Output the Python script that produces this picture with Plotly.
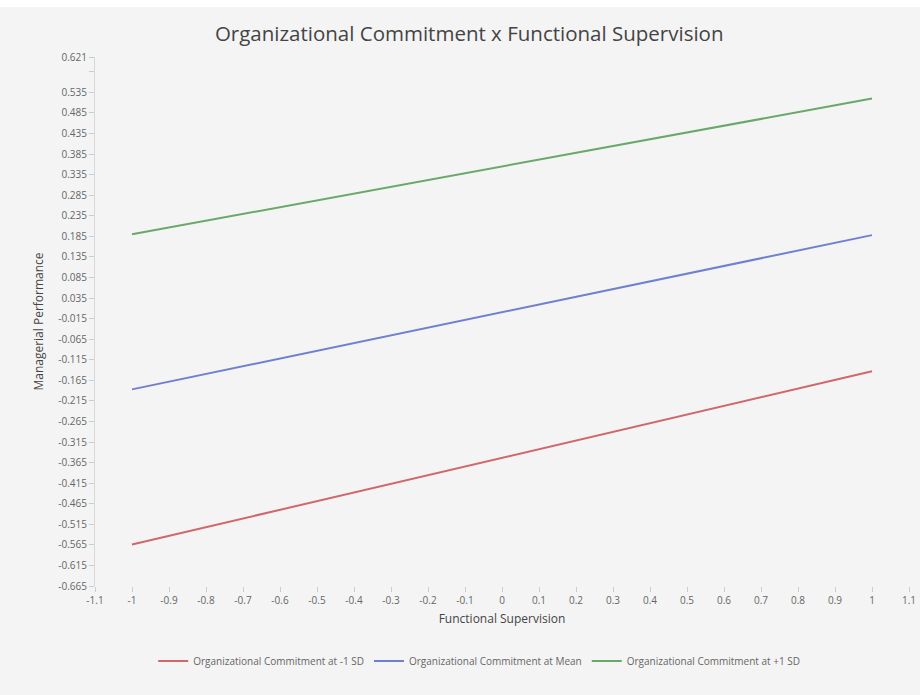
import plotly.graph_objects as go

# Data
x_vals = [-1, 1]
series_names = ["Organizational Commitment at -1 SD",
                "Organizational Commitment at Mean",
                "Organizational Commitment at +1 SD"]
low_sd = [-0.564, -0.143]
mean_vals = [-0.187, 0.188]
high_sd = [0.190, 0.520]
series_colors = ["#d0676a", "#6f80d0", "#6aa86a"]

y_tickvals = [round(-0.665 + 0.05 * k, 3) for k in range(26)] + [0.621]
y_ticktext = [("%.3f" % v) if v != 0.585 else "" for v in y_tickvals]
x_tickvals = [round(-1.1 + 0.1 * k, 1) for k in range(23)]
x_ticktext = ["%g" % v for v in x_tickvals]

fig = go.Figure()
for name, ys, c in zip(series_names, [low_sd, mean_vals, high_sd], series_colors):
    fig.add_trace(go.Scatter(x=x_vals, y=ys, mode="lines", name=name,
                             line=dict(color=c, width=2)))

font_family = "Open Sans, Noto Sans, sans-serif"
fig.update_layout(
    width=920, height=695,
    paper_bgcolor="#f4f4f4", plot_bgcolor="#f4f4f4",
    margin=dict(l=95, r=11, t=57, b=109, autoexpand=False),
    font=dict(family=font_family, color="#666666", size=10),
    title=dict(text="Organizational Commitment x Functional Supervision",
               x=0.51, xanchor="center", y=0.952, yanchor="middle",
               font=dict(size=20.5, color="#444444", family=font_family)),
    showlegend=True,
    legend=dict(orientation="h", x=0.472, xanchor="center", y=-0.142, yanchor="middle",
                font=dict(size=10, color="#666666"), bgcolor="rgba(0,0,0,0)",
                itemwidth=30, tracegroupgap=0),
    xaxis=dict(range=[-1.1, 1.1], tickvals=x_tickvals, ticktext=x_ticktext,
               showgrid=False, zeroline=False, showline=False,
               ticks="outside", ticklen=5, tickcolor="#cccccc",
               ticklabeloverflow="allow", automargin=False,
               tickfont=dict(size=10, color="#666666"),
               title=dict(text="Functional Supervision", standoff=8,
                          font=dict(size=12, color="#444444"))),
    yaxis=dict(range=[-0.665, 0.621], tickvals=y_tickvals, ticktext=y_ticktext,
               showgrid=False, zeroline=False, showline=True, linecolor="#d8d8d8",
               ticks="outside", ticklen=5, tickcolor="#cccccc", automargin=False,
               tickfont=dict(size=10, color="#666666"),
               title=dict(text="Managerial Performance", standoff=12,
                          font=dict(size=12, color="#444444"))),
    shapes=[dict(type="rect", xref="paper", yref="paper", x0=-0.2, x1=1.2,
                 y0=1 + 57 / 529 - 7 / 529, y1=1 + 57 / 529 + 0.01,
                 fillcolor="white", line=dict(width=0), layer="below")],
)

fig.write_html("out.html")
